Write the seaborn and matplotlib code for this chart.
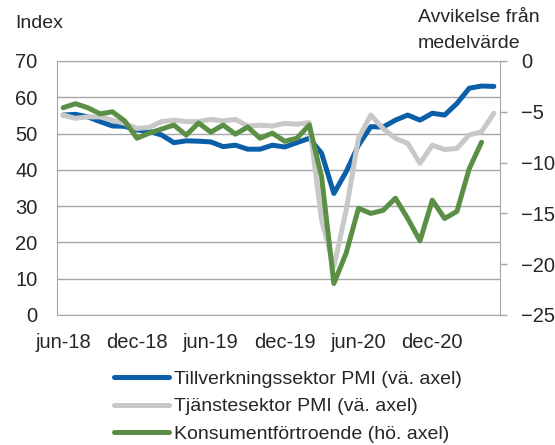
import matplotlib
matplotlib.use("Agg")
import matplotlib.pyplot as plt
import seaborn as sns
import pandas as pd

# monthly, jun-18 .. may-21
month_no = list(range(36))
tick_pos = [0, 6, 12, 18, 24, 30]
tick_labels = ["jun-18", "dec-18", "jun-19", "dec-19", "jun-20", "dec-20"]

manufacturing = [55.1, 55.3, 54.6, 53.3, 52.1, 52.0, 51.0, 50.6, 49.6, 47.5,
                 48.0, 47.9, 47.7, 46.4, 46.8, 45.7, 45.7, 46.8, 46.3, 47.5,
                 48.7, 44.6, 33.5, 39.5, 46.8, 51.9, 51.8, 53.7, 55.1, 53.7,
                 55.6, 55.1, 58.3, 62.5, 63.1, 63.0]
services = [55.1, 54.2, 54.6, 54.6, 53.7, 52.8, 51.4, 51.7, 53.3, 53.7,
            53.3, 53.3, 53.9, 53.5, 53.9, 52.1, 52.3, 52.1, 52.8, 52.6,
            53.0, 26.2, 13.3, 28.9, 48.7, 55.1, 51.4, 48.7, 47.3, 41.8,
            46.8, 45.6, 45.9, 49.6, 50.5, 55.6]
consumer = [-4.6, -4.2, -4.6, -5.2, -5.0, -5.9, -7.6, -7.1, -6.7, -6.3,
            -7.3, -6.1, -7.0, -6.3, -7.2, -6.5, -7.6, -7.1, -7.9, -7.6,
            -6.3, -11.4, -21.9, -18.9, -14.5, -15.0, -14.7, -13.5, -15.5, -17.7,
            -13.7, -15.5, -14.8, -10.6, -8.0]

labels = ["Tillverkningssektor PMI (vä. axel)",
          "Tjänstesektor PMI (vä. axel)",
          "Konsumentförtroende (hö. axel)"]
colors = ["#0a5fa8", "#c8c8c8", "#5b8f45"]
grid_col = "#a6a6a6"

sns.set_style("white")
plt.rcParams["font.family"] = ["Liberation Sans", "DejaVu Sans"]

fig = plt.figure(figsize=(5.55, 4.45), dpi=100)
ax = fig.add_axes([57 / 555, 1 - 315 / 445, 443 / 555, 254 / 445])

sns.lineplot(x=month_no, y=manufacturing, ax=ax, color=colors[0], lw=3.6, label=labels[0])
sns.lineplot(x=month_no, y=services, ax=ax, color=colors[1], lw=3.6, label=labels[1])

ax2 = ax.twinx()
sns.lineplot(x=month_no[:len(consumer)], y=consumer, ax=ax2, color=colors[2], lw=3.6, label=labels[2])

ax.set_xlim(-0.5, 35.5)
ax.set_ylim(0, 70)
ax.set_yticks(range(0, 71, 10))
ax.set_xticks(tick_pos)
ax.set_xticklabels(tick_labels)
ax.yaxis.grid(True, color=grid_col, lw=1)
ax.set_axisbelow(True)
ax.tick_params(axis="y", length=0, pad=14, labelsize=14.5)
ax.tick_params(axis="x", length=0, pad=13, labelsize=14.5)
for s in ["left", "bottom", "top"]:
    ax.spines[s].set_color(grid_col)
ax.spines["right"].set_visible(False)

ax2.set_ylim(-25, 0)
ax2.set_yticks(range(-25, 1, 5))
ax2.tick_params(axis="y", length=5, width=1, color=grid_col, pad=10, labelsize=14.5)
for s in ["left", "bottom", "top"]:
    ax2.spines[s].set_visible(False)
ax2.spines["right"].set_color(grid_col)

h1, l1 = ax.get_legend_handles_labels()
h2, l2 = ax2.get_legend_handles_labels()
ax.get_legend().remove()
ax2.get_legend().remove()
fig.legend(h1 + h2, l1 + l2, loc="upper left", bbox_to_anchor=(114 / 555, 1 - 370 / 445),
           frameon=False, fontsize=14, handlelength=2.85, handletextpad=0.25,
           labelspacing=0.52, borderaxespad=0, borderpad=0)

fig.text(15 / 555, 1 - 23 / 445, "Index", fontsize=14, va="center")
fig.text(418 / 555, 1 - 17 / 445, "Avvikelse från", fontsize=14, va="center")
fig.text(418 / 555, 1 - 43 / 445, "medelvärde", fontsize=14, va="center")

fig.savefig("out.png", dpi=100)
